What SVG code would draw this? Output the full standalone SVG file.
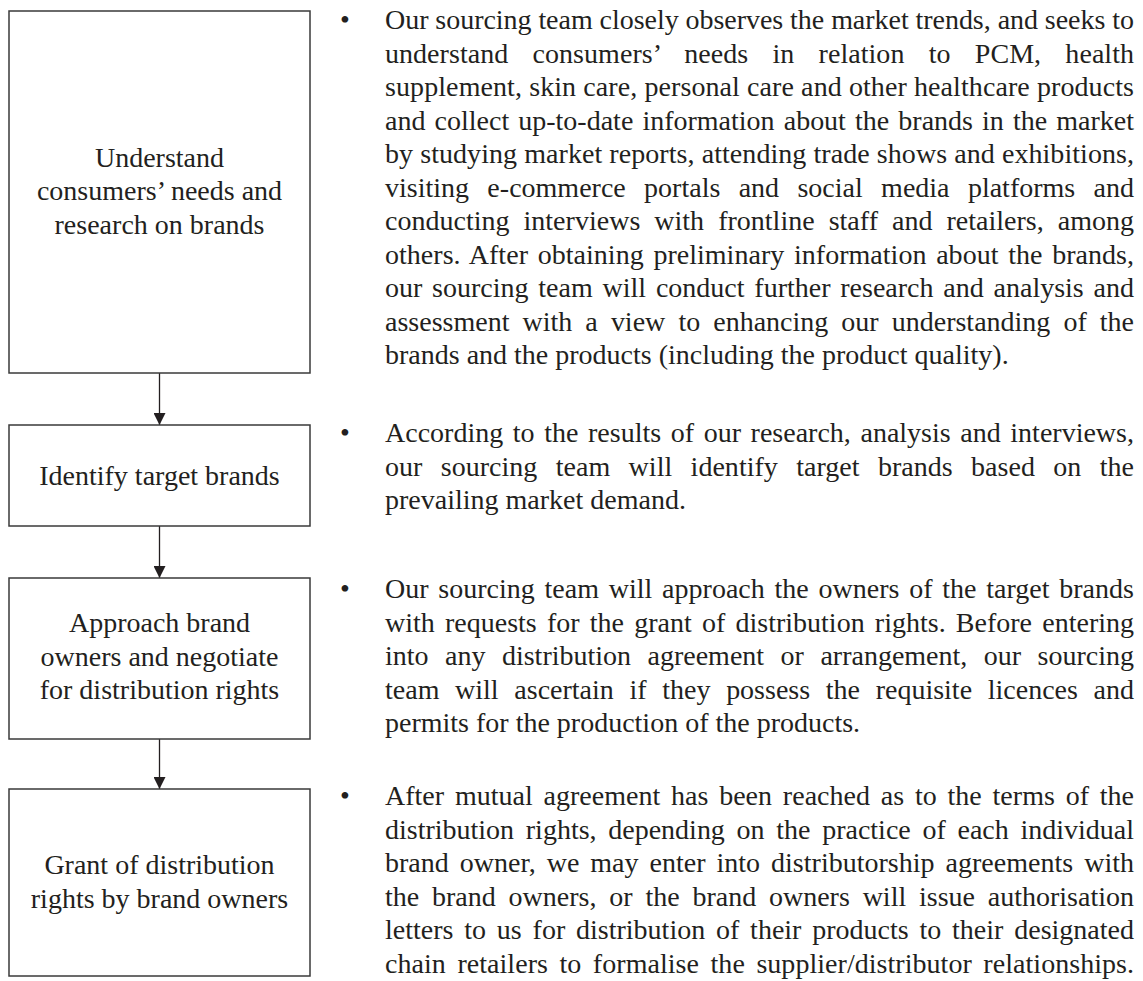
<svg xmlns="http://www.w3.org/2000/svg" width="1143" height="981" viewBox="0 0 1143 981">
<defs>
<marker id="ah" viewBox="0 0 12 12" refX="12" refY="6" markerWidth="12" markerHeight="12" markerUnits="userSpaceOnUse" orient="auto"><path d="M0,0 L12,6 L0,12 Z" fill="#231f20"/></marker>
<style>
.box{fill:#fff;stroke:#3a3a3a;stroke-width:1.5}
.lbl{font-family:"Liberation Serif","Times New Roman",serif;font-size:28px;fill:#231f20;text-anchor:middle}
.body{font-family:"Liberation Serif","Times New Roman",serif;font-size:28px;fill:#231f20}
.conn{stroke:#231f20;stroke-width:1.3;fill:none}
</style>
</defs>
<rect width="1143" height="981" fill="#fff"/>

<g id="connectors">
<path class="conn" d="M159.5,373 L159.5,425" marker-end="url(#ah)"/>
<path class="conn" d="M159.5,526 L159.5,578" marker-end="url(#ah)"/>
<path class="conn" d="M159.5,739 L159.5,789" marker-end="url(#ah)"/>
</g>

<g id="node-understand">
<rect class="box" x="9" y="11" width="301" height="362"/>
<text class="lbl" x="159.5" y="166.5">Understand</text>
<text class="lbl" x="159.5" y="200">consumers’ needs and</text>
<text class="lbl" x="159.5" y="233.5">research on brands</text>
</g>
<g id="node-identify">
<rect class="box" x="9" y="425" width="301" height="101"/>
<text class="lbl" x="159.5" y="485">Identify target brands</text>
</g>
<g id="node-approach">
<rect class="box" x="9" y="578" width="301" height="161"/>
<text class="lbl" x="159.5" y="632">Approach brand</text>
<text class="lbl" x="159.5" y="665.5">owners and negotiate</text>
<text class="lbl" x="159.5" y="699">for distribution rights</text>
</g>
<g id="node-grant">
<rect class="box" x="9" y="789" width="301" height="187"/>
<text class="lbl" x="159.5" y="874">Grant of distribution</text>
<text class="lbl" x="159.5" y="907.5">rights by brand owners</text>
</g>

<g id="desc-understand" class="body">
<text x="340" y="29">•</text>
<text x="385" y="29" textLength="749" lengthAdjust="spacing">Our sourcing team closely observes the market trends, and seeks to</text>
<text x="385" y="62.5" textLength="749" lengthAdjust="spacing" word-spacing="17.2">understand consumers’ needs in relation to PCM, health</text>
<text x="385" y="96" textLength="749" lengthAdjust="spacing">supplement, skin care, personal care and other healthcare products</text>
<text x="385" y="129.5" textLength="749" lengthAdjust="spacing" word-spacing="2.1">and collect up-to-date information about the brands in the market</text>
<text x="385" y="163" textLength="749" lengthAdjust="spacing">by studying market reports, attending trade shows and exhibitions,</text>
<text x="385" y="196.5" textLength="749" lengthAdjust="spacing" word-spacing="11.3">visiting e-commerce portals and social media platforms and</text>
<text x="385" y="230" textLength="749" lengthAdjust="spacing" word-spacing="7">conducting interviews with frontline staff and retailers, among</text>
<text x="385" y="263.5" textLength="749" lengthAdjust="spacing" word-spacing="2.7">others. After obtaining preliminary information about the brands,</text>
<text x="385" y="297" textLength="749" lengthAdjust="spacing" word-spacing="2.8">our sourcing team will conduct further research and analysis and</text>
<text x="385" y="330.5" textLength="749" lengthAdjust="spacing" word-spacing="6.1">assessment with a view to enhancing our understanding of the</text>
<text x="385" y="364">brands and the products (including the product quality).</text>
</g>

<g id="desc-identify" class="body">
<text x="340" y="442">•</text>
<text x="385" y="442" textLength="749" lengthAdjust="spacing" word-spacing="2.6">According to the results of our research, analysis and interviews,</text>
<text x="385" y="475.5" textLength="749" lengthAdjust="spacing" word-spacing="11.4">our sourcing team will identify target brands based on the</text>
<text x="385" y="509">prevailing market demand.</text>
</g>

<g id="desc-approach" class="body">
<text x="340" y="598">•</text>
<text x="385" y="598" textLength="749" lengthAdjust="spacing" word-spacing="2.7">Our sourcing team will approach the owners of the target brands</text>
<text x="385" y="631.5" textLength="749" lengthAdjust="spacing" word-spacing="3.2">with requests for the grant of distribution rights. Before entering</text>
<text x="385" y="665" textLength="749" lengthAdjust="spacing" word-spacing="9.5">into any distribution agreement or arrangement, our sourcing</text>
<text x="385" y="698.5" textLength="749" lengthAdjust="spacing" word-spacing="8.7">team will ascertain if they possess the requisite licences and</text>
<text x="385" y="732">permits for the production of the products.</text>
</g>

<g id="desc-grant" class="body">
<text x="340" y="805">•</text>
<text x="385" y="805" textLength="749" lengthAdjust="spacing" word-spacing="3.8">After mutual agreement has been reached as to the terms of the</text>
<text x="385" y="838.5" textLength="749" lengthAdjust="spacing" word-spacing="4.7">distribution rights, depending on the practice of each individual</text>
<text x="385" y="872" textLength="749" lengthAdjust="spacing" word-spacing="3.9">brand owner, we may enter into distributorship agreements with</text>
<text x="385" y="905.5" textLength="749" lengthAdjust="spacing" word-spacing="5.8">the brand owners, or the brand owners will issue authorisation</text>
<text x="385" y="939" textLength="749" lengthAdjust="spacing" word-spacing="3.8">letters to us for distribution of their products to their designated</text>
<text x="385" y="972.5" textLength="749" lengthAdjust="spacing" word-spacing="4.5">chain retailers to formalise the supplier/distributor relationships.</text>
</g>
</svg>
